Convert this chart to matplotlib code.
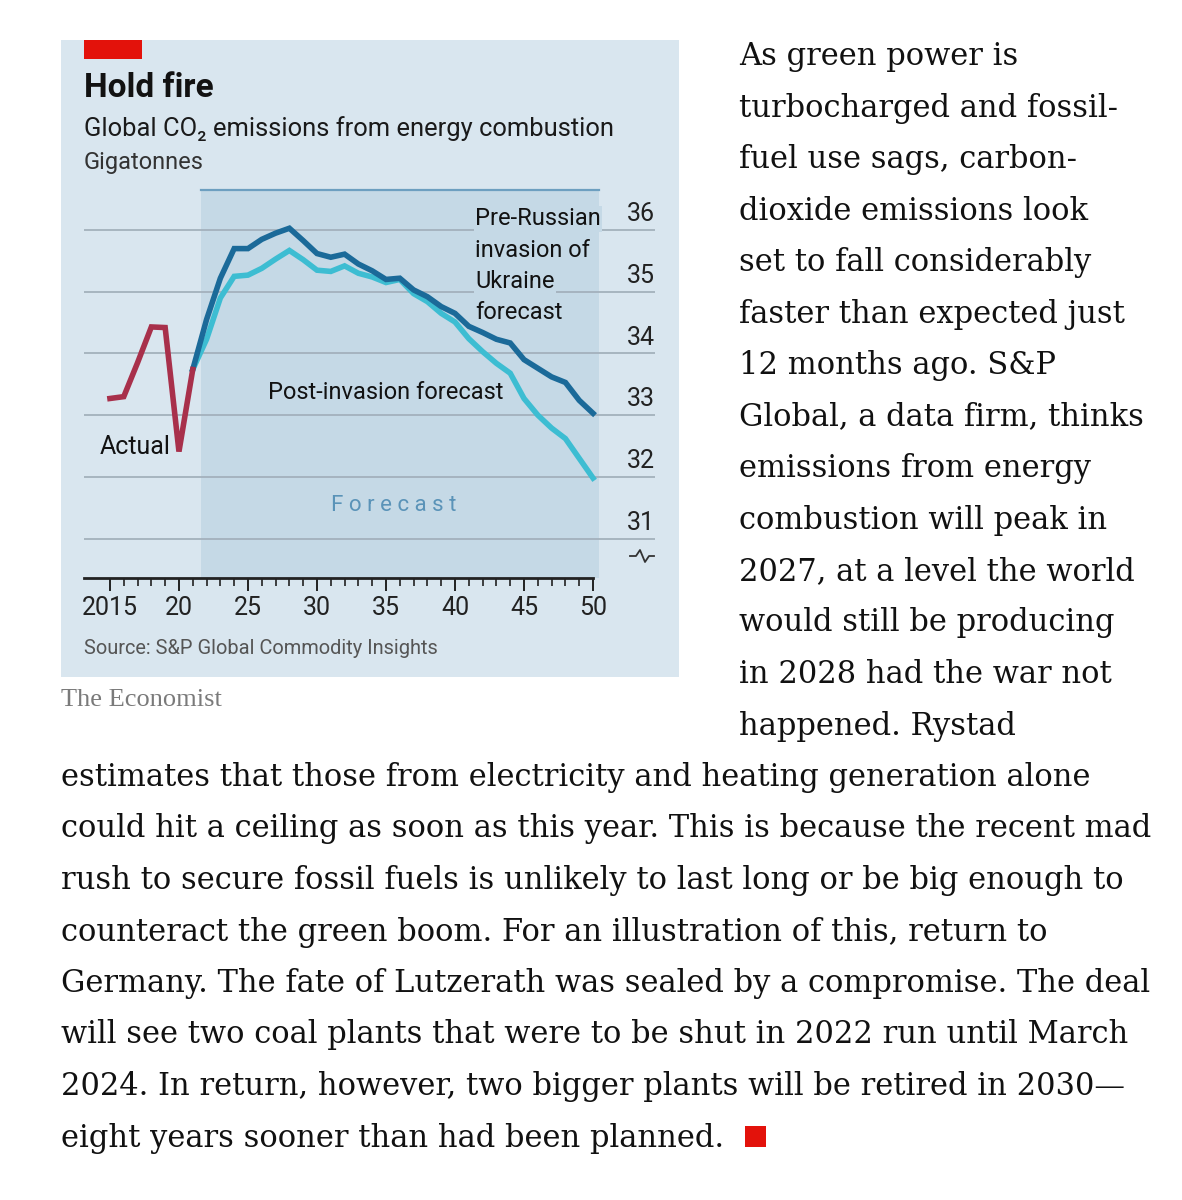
import matplotlib
matplotlib.use("Agg")
import matplotlib.pyplot as plt
from matplotlib import font_manager
from matplotlib.patches import Rectangle

# --- data (gigatonnes) ---
years_actual = [2015, 2016, 2017, 2018, 2019, 2020, 2021]
actual = [33.27, 33.30, 33.85, 34.43, 34.42, 32.41, 33.74]

years_fc = list(range(2021, 2051))
pre_invasion = [33.74, 34.55, 35.22, 35.70, 35.70, 35.85, 35.95, 36.03, 35.83, 35.62,
                35.56, 35.61, 35.45, 35.34, 35.20, 35.22, 35.03, 34.92, 34.76, 34.65,
                34.44, 34.34, 34.23, 34.17, 33.90, 33.76, 33.62, 33.53, 33.24, 33.03]
post_invasion = [33.74, 34.23, 34.90, 35.25, 35.27, 35.38, 35.53, 35.67, 35.52, 35.35,
                 35.33, 35.42, 35.30, 35.24, 35.15, 35.20, 34.97, 34.84, 34.65, 34.51,
                 34.24, 34.03, 33.84, 33.68, 33.27, 33.00, 32.79, 32.62, 32.30, 31.98]

xtick_pos = list(range(2015, 2051, 5))
xtick_labels = ["2015", "20", "25", "30", "35", "40", "45", "50"]
ygrid = [31, 32, 33, 34, 35, 36]

right_lines = ["As green power is", "turbocharged and fossil-", "fuel use sags, carbon-",
               "dioxide emissions look", "set to fall considerably", "faster than expected just",
               "12 months ago. S&P", "Global, a data firm, thinks", "emissions from energy",
               "combustion will peak in", "2027, at a level the world", "would still be producing",
               "in 2028 had the war not", "happened. Rystad"]
full_lines = ["estimates that those from electricity and heating generation alone",
              "could hit a ceiling as soon as this year. This is because the recent mad",
              "rush to secure fossil fuels is unlikely to last long or be big enough to",
              "counteract the green boom. For an illustration of this, return to",
              "Germany. The fate of Lutzerath was sealed by a compromise. The deal",
              "will see two coal plants that were to be shut in 2022 run until March",
              "2024. In return, however, two bigger plants will be retired in 2030\u2014",
              "eight years sooner than had been planned."]

# colours
panel = "#d9e6ef"
shade = "#c5d9e6"
gridc = "#a3b1bc"
red = "#e3120b"
c_actual = "#a8304b"
c_pre = "#1b6a99"
c_post = "#3dbdd2"

names = {f.name for f in font_manager.fontManager.ttflist}
sans = "Liberation Sans Narrow" if "Liberation Sans Narrow" in names else "Roboto"
serif = "DejaVu Serif"
plt.rcParams["font.family"] = [sans, "DejaVu Sans"]

fig = plt.figure(figsize=(11.82, 12), dpi=100)
fig.patch.set_facecolor("white")

# full-figure layer in pixel coordinates
bg = fig.add_axes([0, 0, 1, 1])
bg.set_xlim(0, 1182)
bg.set_ylim(1200, 0)
bg.axis("off")

bg.add_patch(Rectangle((61, 40), 618, 637, fc=panel, ec="none"))
bg.add_patch(Rectangle((84, 40), 58, 19, fc=red, ec="none"))
bg.text(84, 88, "Hold fire", fontsize=24, fontweight="bold", va="center", color="#121212")
bg.text(84, 129, "Global CO\u2082 emissions from energy combustion", fontsize=18.4,
        va="center", color="#1a1a1a")
bg.text(84, 163, "Gigatonnes", fontsize=17, va="center", color="#333333")
bg.text(84, 648, "Source: S&P Global Commodity Insights", fontsize=14.4, va="center",
        color="#555555")
bg.text(61, 700, "The Economist", fontsize=19, va="center", color="#7a7a7a", family="Liberation Serif")
# axis break mark
bg.plot([630, 636, 640, 645, 649, 654], [556, 556, 550, 562, 556, 556], color="#333333", lw=1.3)

# chart
ax = fig.add_axes([84 / 1182, 1 - 578 / 1200, 571 / 1182, 388 / 1200])
ax.patch.set_alpha(0)
ax.set_xlim(2013.12, 2054.49)
ax.set_ylim(30.36, 36.65)

ax.axvspan(2021.6, 2050.45, color=shade, zorder=0, lw=0)
ax.plot([2021.6, 2050.45], [36.65, 36.65], color="#6d9fc0", lw=1.6, clip_on=False, zorder=2)

for v in ygrid:
    ax.axhline(v, color=gridc, lw=1.3, zorder=1)
    ax.text(2054.49, v + 0.06, str(v), ha="right", va="bottom", fontsize=18, color="#222222")

ax.plot(years_fc, post_invasion, color=c_post, lw=4, solid_joinstyle="miter", zorder=3)
ax.plot(years_fc, pre_invasion, color=c_pre, lw=4, solid_joinstyle="miter", zorder=4)
ax.plot(years_actual, actual, color=c_actual, lw=4, solid_joinstyle="miter", zorder=5)

ax.text(2014.28, 32.48, "Actual", fontsize=18, va="center", color="#121212")
ax.text(2026.45, 33.36, "Post-invasion forecast", fontsize=17, va="center", color="#121212")
for lab, yv in zip(["Pre-Russian", "invasion of", "Ukraine", "forecast"],
                   [36.18, 35.67, 35.17, 34.67]):
    ax.text(2041.45, yv, lab, fontsize=17, va="center", color="#121212", zorder=6,
            bbox=dict(fc=shade, ec="none", pad=1))
ax.text(2035.58, 31.53, "F o r e c a s t", fontsize=16, ha="center", va="center",
        color="#5a93b8")

for s in ["top", "left", "right"]:
    ax.spines[s].set_visible(False)
ax.spines["bottom"].set_bounds(2013.12, 2050)
ax.spines["bottom"].set_linewidth(2)
ax.spines["bottom"].set_color("#222222")
ax.set_xticks(xtick_pos)
ax.set_xticklabels(xtick_labels)
ax.set_xticks(range(2015, 2051), minor=True)
ax.tick_params(axis="x", which="major", length=9, width=1.4, color="#222222",
               labelsize=18, labelcolor="#222222", pad=4)
ax.tick_params(axis="x", which="minor", length=6, width=1.2, color="#222222")
ax.set_yticks([])

# article text
for i, line in enumerate(right_lines):
    bg.text(739, 65 + 51.5 * i, line, fontsize=22, va="baseline", color="#111111", family=serif)
for j, line in enumerate(full_lines):
    bg.text(61, 65 + 51.5 * (len(right_lines) + j), line, fontsize=22, va="baseline",
            color="#111111", family=serif)
bg.add_patch(Rectangle((745, 1126), 21, 21, fc=red, ec="none"))

fig.savefig("out.png", dpi=100)
